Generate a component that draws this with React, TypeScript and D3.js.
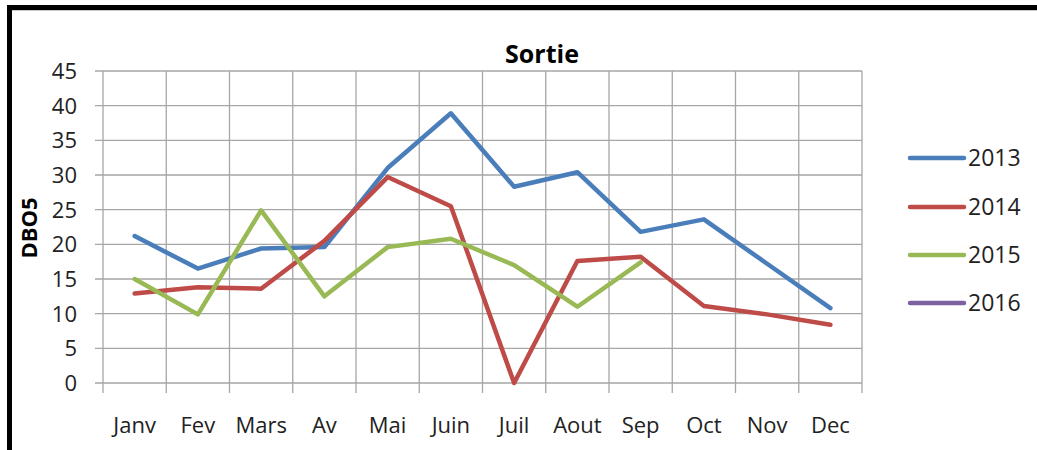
import React from "react";
import * as d3 from "d3";

const months = ["Janv", "Fev", "Mars", "Av", "Mai", "Juin", "Juil", "Aout", "Sep", "Oct", "Nov", "Dec"];
const yTicks = [0, 5, 10, 15, 20, 25, 30, 35, 40, 45];
const seriesNames = ["2013", "2014", "2015", "2016"];
const seriesColors = ["#4a7ebb", "#be4b48", "#98b954", "#7d60a0"];
const v2013: (number | null)[] = [21.2, 16.5, 19.4, 19.6, 31.0, 38.9, 28.3, 30.4, 21.8, 23.6, 17.2, 10.8];
const v2014: (number | null)[] = [12.9, 13.8, 13.6, 20.5, 29.7, 25.5, 0, 17.6, 18.2, 11.1, 9.9, 8.4];
const v2015: (number | null)[] = [15.0, 9.9, 24.9, 12.5, 19.6, 20.8, 17.0, 11.0, 17.4, null, null, null];
const v2016: (number | null)[] = [null, null, null, null, null, null, null, null, null, null, null, null];
const title = "Sortie";
const yTitle = "DBO5";

const W = 1037;
const H = 450;
const plot = { left: 103, right: 862, top: 71, bottom: 383 };
const FONT = "'Open Sans', 'DejaVu Sans', sans-serif";

export default function App() {
  const x = d3.scaleBand<string>().domain(months).range([plot.left, plot.right]).padding(0);
  const y = d3.scaleLinear().domain([0, 45]).range([plot.bottom, plot.top]);
  const allSeries = [v2013, v2014, v2015, v2016];
  const line = d3
    .line<number | null>()
    .defined((d) => d !== null)
    .x((_, i) => (x(months[i]) as number) + x.bandwidth() / 2)
    .y((d) => y(d as number));
  const boundaries = d3.range(months.length + 1).map((i) => plot.left + i * x.bandwidth());
  const legendY = [158, 207, 255, 303];

  return (
    <div style={{ position: "absolute", left: 0, top: 0, width: W, height: H, background: "#fff" }}>
      <svg width={W} height={H} style={{ display: "block" }}>
        <rect x={0} y={0} width={W} height={H} fill="#fff" />
        {/* frame */}
        <rect x={8} y={5} width={W - 8} height={5} fill="#000" />
        <line x1={12} x2={W} y1={10.5} y2={10.5} stroke="#c8c8c8" strokeWidth={1} />
        <rect x={7} y={5} width={5} height={H - 5} fill="#000" />

        {/* horizontal grid + y ticks */}
        {yTicks.map((t) => (
          <g key={"h" + t}>
            <line x1={plot.left - 8} x2={plot.right} y1={y(t)} y2={y(t)} stroke="#a6a6a6" strokeWidth={1.3} />
            <text x={77} y={y(t)} dy="0.36em" textAnchor="end" fontFamily={FONT} fontSize={22} fill="#222">
              {t}
            </text>
          </g>
        ))}
        {/* vertical grid + x ticks */}
        {boundaries.map((bx, i) => (
          <line key={"v" + i} x1={bx} x2={bx} y1={plot.top} y2={plot.bottom + 10} stroke="#a6a6a6" strokeWidth={1.3} />
        ))}
        {months.map((m) => (
          <text
            key={m}
            x={(x(m) as number) + x.bandwidth() / 2}
            y={433}
            textAnchor="middle"
            fontFamily={FONT}
            fontSize={22}
            fill="#222"
          >
            {m}
          </text>
        ))}

        {/* series */}
        {allSeries.map((s, i) => (
          <path
            key={seriesNames[i]}
            d={line(s) || ""}
            fill="none"
            stroke={seriesColors[i]}
            strokeWidth={4.5}
            strokeLinejoin="round"
            strokeLinecap="round"
          />
        ))}

        {/* title */}
        <text x={542} y={63} textAnchor="middle" fontFamily={FONT} fontSize={25} fontWeight="bold" fill="#000">
          {title}
        </text>
        <text
          transform={`translate(37,228) rotate(-90)`}
          textAnchor="middle"
          fontFamily={FONT}
          fontSize={22}
          fontWeight="bold"
          fill="#000"
        >
          {yTitle}
        </text>

        {/* legend */}
        {seriesNames.map((n, i) => (
          <g key={"lg" + n}>
            <line x1={910} x2={964} y1={legendY[i]} y2={legendY[i]} stroke={seriesColors[i]} strokeWidth={4.5} strokeLinecap="round" />
            <text x={968} y={legendY[i]} dy="0.36em" fontFamily={FONT} fontSize={23} fill="#222">
              {n}
            </text>
          </g>
        ))}
      </svg>
    </div>
  );
}
